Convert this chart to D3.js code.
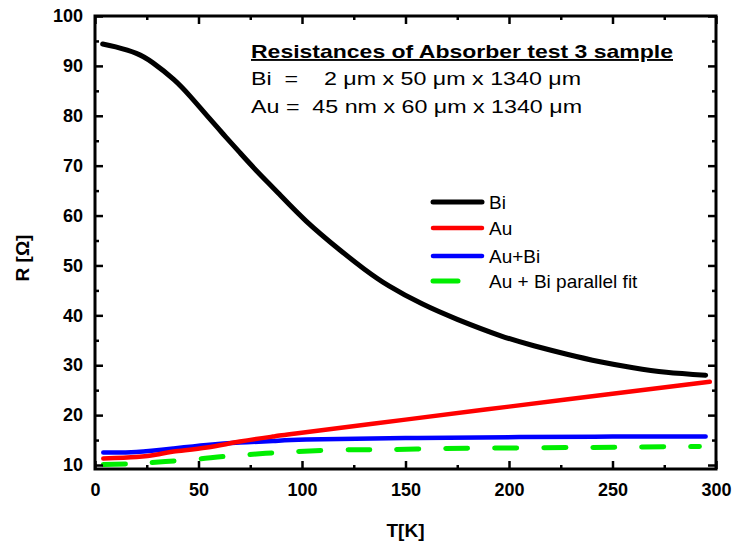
<!DOCTYPE html>
<html>
<head>
<meta charset="utf-8">
<script src="https://cdn.jsdelivr.net/npm/d3@7"></script>
<style>
  body { margin: 0; background: #fff; }
  svg { font-family: "Liberation Sans", Arial, sans-serif; }
</style>
</head>
<body>
<div class="svg"></div>
<script>
// temperatures (K) and resistances (Ohm)
var biT = [3.7, 10, 20, 28, 38, 46, 54, 62, 70, 78, 89, 102, 118, 130, 142, 158, 175, 196, 212, 228, 244, 260, 276, 295];
var biR = [94.4, 93.8, 92.5, 90.6, 87.3, 83.9, 80.1, 76.3, 72.6, 69.0, 64.3, 58.9, 53.2, 49.3, 45.9, 42.3, 39.2, 35.9, 33.9, 32.2, 30.7, 29.5, 28.6, 28.0];

var auT = [4, 20, 30, 38, 54, 70, 86, 97, 150, 200, 250, 297];
var auR = [11.3, 11.6, 12.1, 12.7, 13.5, 14.7, 15.7, 16.3, 19.1, 21.7, 24.3, 26.7];

var auBiT = [4, 20, 38, 54, 70, 86, 102, 150, 205, 250, 295];
var auBiR = [12.5, 12.6, 13.3, 14.0, 14.5, 14.8, 15.1, 15.4, 15.6, 15.7, 15.7];

var fitT = [4, 20, 34, 50, 62, 78, 92, 117, 141, 165, 192, 230, 260, 292];
var fitR = [10.1, 10.3, 10.7, 11.2, 11.7, 12.2, 12.6, 13.0, 13.1, 13.3, 13.4, 13.5, 13.6, 13.7];

var xTicks = [0, 50, 100, 150, 200, 250, 300];
var yTicks = [10, 20, 30, 40, 50, 60, 70, 80, 90, 100];

var legendNames = ['Bi', 'Au', 'Au+Bi', 'Au + Bi parallel fit'];

var W = 737;
var H = 547;

var pLeft = 95, pRight = 716, pTop = 16, pBottom = 469;

var x = d3.scaleLinear().domain([0, 300]).range([pLeft, pRight]);
var y = d3.scaleLinear().domain([9.2, 100]).range([pBottom, pTop]);

var svg = d3.select('div.svg')
    .append('svg')
    .attr('width', W)
    .attr('height', H)

function zip(t, r) {
    return t.map(function (d, i) { return [d, r[i]]; });
}

var series = [
    { data: zip(biT, biR), color: '#000000', w: 5, dash: null },
    { data: zip(auT, auR), color: '#ff0000', w: 4.5, dash: null },
    { data: zip(auBiT, auBiR), color: '#0000ff', w: 4.5, dash: null },
    { data: zip(fitT, fitR), color: '#00ee00', w: 5, dash: '22,27' }
];

var line = d3.line()
    .x(d => x(d[0]))
    .y(d => y(d[1]))
    .curve(d3.curveNatural)

// draw order: fit first, Bi last
svg.append('g').selectAll('path')
    .data([series[3], series[2], series[1], series[0]])
    .enter()
    .append('path')
    .attr('d', d => line(d.data))
    .attr('fill', 'none')
    .attr('stroke', d => d.color)
    .attr('stroke-width', d => d.w)
    .attr('stroke-linecap', 'round')
    .attr('stroke-linejoin', 'round')
    .attr('stroke-dasharray', d => d.dash)

// axes, ticks pointing inward, mirrored on top/right
var xMinor = d3.range(0, 301, 25).filter(d => d % 50 != 0);
var yMinor = d3.range(15, 100, 10);

function styleAxis(g) {
    g.select('.domain').remove();
    g.selectAll('line').attr('stroke', '#000').attr('stroke-width', 2.5);
    g.selectAll('text')
        .attr('fill', '#000')
        .style('font-size', '18px')
        .style('font-weight', 'bold');
}

svg.append('g')
    .attr('transform', 'translate(0,' + pBottom + ')')
    .call(d3.axisBottom(x).tickValues(xTicks).tickSize(-8).tickPadding(14).tickFormat(d3.format('d')))
    .call(styleAxis)
svg.append('g')
    .attr('transform', 'translate(0,' + pBottom + ')')
    .call(d3.axisBottom(x).tickValues(xMinor).tickSize(-4).tickFormat(''))
    .call(styleAxis)
svg.append('g')
    .attr('transform', 'translate(0,' + pTop + ')')
    .call(d3.axisTop(x).tickValues(xTicks).tickSize(-8).tickFormat(''))
    .call(styleAxis)
svg.append('g')
    .attr('transform', 'translate(0,' + pTop + ')')
    .call(d3.axisTop(x).tickValues(xMinor).tickSize(-4).tickFormat(''))
    .call(styleAxis)

svg.append('g')
    .attr('transform', 'translate(' + pLeft + ',0)')
    .call(d3.axisLeft(y).tickValues(yTicks).tickSize(-8).tickPadding(12).tickFormat(d3.format('d')))
    .call(styleAxis)
svg.append('g')
    .attr('transform', 'translate(' + pLeft + ',0)')
    .call(d3.axisLeft(y).tickValues(yMinor).tickSize(-4).tickFormat(''))
    .call(styleAxis)
svg.append('g')
    .attr('transform', 'translate(' + pRight + ',0)')
    .call(d3.axisRight(y).tickValues(yTicks).tickSize(-8).tickFormat(''))
    .call(styleAxis)
svg.append('g')
    .attr('transform', 'translate(' + pRight + ',0)')
    .call(d3.axisRight(y).tickValues(yMinor).tickSize(-4).tickFormat(''))
    .call(styleAxis)

svg.append('rect')
    .attr('x', pLeft)
    .attr('y', pTop)
    .attr('width', pRight - pLeft)
    .attr('height', pBottom - pTop)
    .attr('fill', 'none')
    .attr('stroke', '#000')
    .attr('stroke-width', 3)

// axis titles
svg.append('text')
    .attr('x', (pLeft + pRight) / 2)
    .attr('y', 537)
    .attr('text-anchor', 'middle')
    .style('font-size', '19px')
    .style('font-weight', 'bold')
    .text('T[K]')

svg.append('text')
    .attr('transform', 'translate(29,258) rotate(-90)')
    .attr('text-anchor', 'middle')
    .style('font-size', '19px')
    .style('font-weight', 'bold')
    .text('R [Ω]')

// annotation
svg.append('text')
    .attr('x', 251)
    .attr('y', 58)
    .attr('textLength', 422)
    .attr('lengthAdjust', 'spacingAndGlyphs')
    .style('font-size', '19px')
    .style('font-weight', 'bold')
    .style('text-decoration', 'underline')
    .text('Resistances of Absorber test 3 sample')

svg.append('text')
    .attr('x', 251)
    .attr('y', 85)
    .attr('textLength', 330)
    .attr('lengthAdjust', 'spacingAndGlyphs')
    .style('font-size', '19px')
    .style('white-space', 'pre')
    .text('Bi  =    2 μm x 50 μm x 1340 μm')

svg.append('text')
    .attr('x', 251)
    .attr('y', 113)
    .attr('textLength', 331)
    .attr('lengthAdjust', 'spacingAndGlyphs')
    .style('font-size', '19px')
    .style('white-space', 'pre')
    .text('Au =  45 nm x 60 μm x 1340 μm')

// legend
var legend = svg.append('g')
    .selectAll('g')
    .data(series)
    .enter()
    .append('g')
    .attr('transform', (d, i) => 'translate(433,' + [202, 228, 256, 281][i] + ')')

legend.append('line')
    .attr('x1', 0)
    .attr('x2', (d, i) => i == 3 ? 25 : 49)
    .attr('y1', 0)
    .attr('y2', 0)
    .attr('stroke', d => d.color)
    .attr('stroke-width', d => d.w)
    .attr('stroke-linecap', 'round')

legend.append('text')
    .attr('x', 56)
    .attr('y', 6.5)
    .style('font-size', '19px')
    .text((d, i) => legendNames[i])
</script>
</body>
</html>
